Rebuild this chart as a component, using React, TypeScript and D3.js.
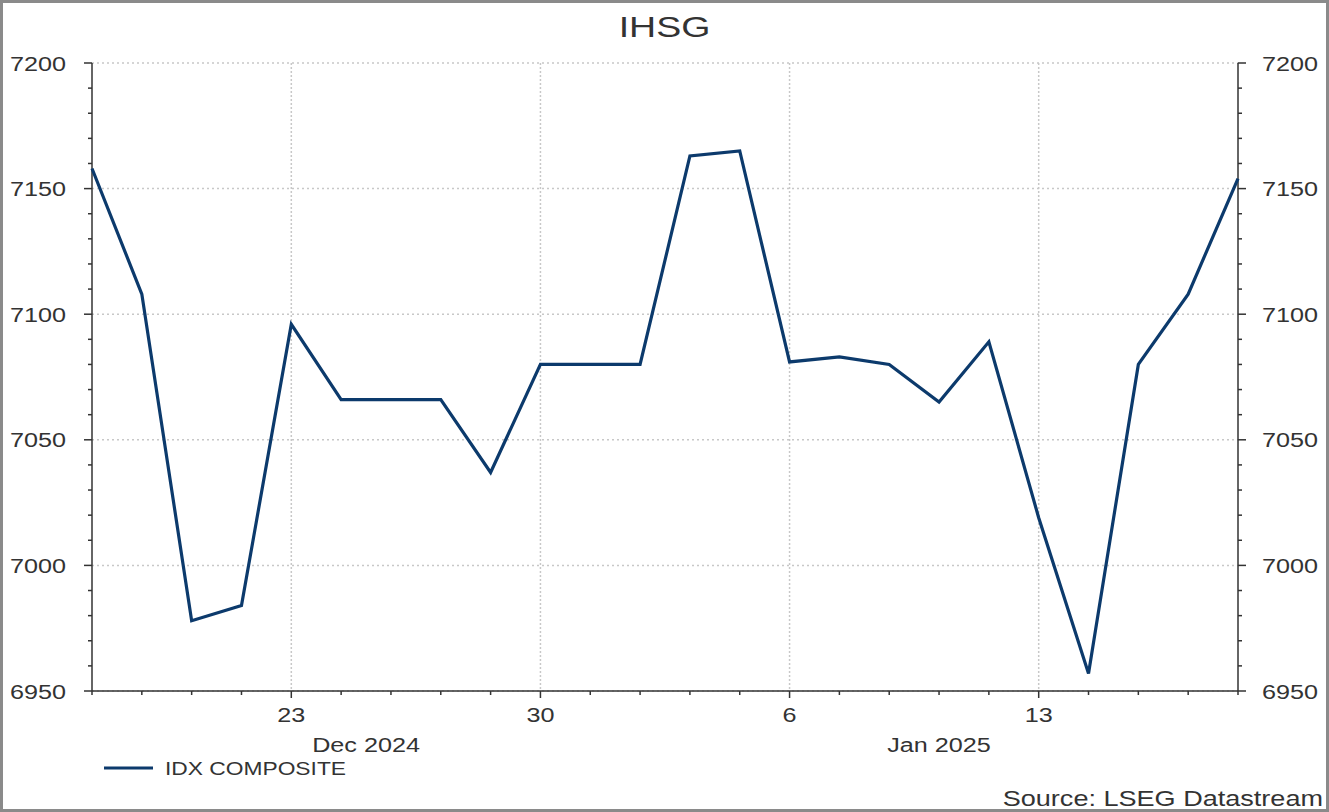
import React from "react"
import * as d3 from "d3"

// IDX Composite closing levels, trading days only
const dates = [
  "2024-12-17", "2024-12-18", "2024-12-19", "2024-12-20",
  "2024-12-23", "2024-12-24", "2024-12-25", "2024-12-26", "2024-12-27",
  "2024-12-30", "2024-12-31", "2025-01-01", "2025-01-02", "2025-01-03",
  "2025-01-06", "2025-01-07", "2025-01-08", "2025-01-09", "2025-01-10",
  "2025-01-13", "2025-01-14", "2025-01-15", "2025-01-16", "2025-01-17",
]
const values = [
  7158, 7108, 6978, 6984,
  7096, 7066, 7066, 7066, 7037,
  7080, 7080, 7080, 7163, 7165,
  7081, 7083, 7080, 7065, 7089,
  7019, 6957, 7080, 7108, 7154,
]
const yTicks = [6950, 7000, 7050, 7100, 7150, 7200]
const monthLabels = ["Dec 2024", "Jan 2025"]
const monthLabelAt = [5.5, 17] // position in trading-day index

const W = 1329
const H = 812
const margin = { top: 63, right: 91, bottom: 121, left: 92 }
const LINE = "#0c3a6c"
const TEXT = "#333"
const GRID = "#c8c8c8"
const SX = 1.2 // source picture is stretched horizontally

const parse = d3.timeParse("%Y-%m-%d")

const T: React.FC<{ x: number; y: number; size: number; anchor?: string; children: React.ReactNode; sx?: number }> = ({ x, y, size, anchor = "start", children, sx = SX }) => (
  <text
    transform={`translate(${x},${y}) scale(${sx},1)`}
    fontSize={size}
    textAnchor={anchor}
    fill={TEXT}
    fontFamily="'Liberation Sans', Arial, sans-serif"
  >
    {children}
  </text>
)

export default function App() {
  const parsed = dates.map(d => parse(d) as Date)
  const x = d3.scaleLinear().domain([0, dates.length - 1]).range([margin.left, W - margin.right])
  const y = d3.scaleLinear().domain([6950, 7200]).range([H - margin.bottom, margin.top])
  const minor = d3.range(6950, 7201, 10)
  const mondays = parsed.map((d, i) => ({ d, i })).filter(o => o.d.getDay() === 1)

  const line = d3.line<number>()
    .x((_v, i) => x(i))
    .y(v => y(v))

  const x0 = x(0)
  const x1 = x(dates.length - 1)
  const yb = y(6950)

  return (
    <div style={{ position: "absolute", left: 0, top: 0 }}>
      <svg width={W} height={H} style={{ display: "block", background: "#fff" }}>
        <rect x={1.5} y={1.5} width={W - 3} height={H - 3} fill="none" stroke="#8a8a8a" strokeWidth={3} />

        {/* grid */}
        {yTicks.map(t => (
          <line key={"gy" + t} x1={x0} x2={x1} y1={y(t)} y2={y(t)} stroke={GRID} strokeWidth={1.5} strokeDasharray="2,3" />
        ))}
        {mondays.map(m => (
          <line key={"gx" + m.i} x1={x(m.i)} x2={x(m.i)} y1={y(7200)} y2={yb} stroke={GRID} strokeWidth={1.5} strokeDasharray="2,2" />
        ))}

        {/* axes */}
        <g stroke="#333" strokeWidth={1.5}>
          <line x1={x0} x2={x0} y1={y(7200)} y2={yb} />
          <line x1={x1} x2={x1} y1={y(7200)} y2={yb} />
          <line x1={x0} x2={x1} y1={yb} y2={yb} />
          {minor.map(t => {
            const major = t % 50 === 0
            const len = major ? 8 : 4
            return (
              <g key={"t" + t}>
                <line x1={x0 - len} x2={x0} y1={y(t)} y2={y(t)} />
                <line x1={x1} x2={x1 + len} y1={y(t)} y2={y(t)} />
              </g>
            )
          })}
          {parsed.map((d, i) => (
            <line key={"xt" + i} x1={x(i)} x2={x(i)} y1={yb} y2={yb + (d.getDay() === 1 ? 7 : 4)} />
          ))}
        </g>

        {/* tick labels */}
        {yTicks.map(t => (
          <g key={"yl" + t}>
            <T x={x0 - 26} y={y(t) + 7.5} size={21} anchor="end">{t}</T>
            <T x={x1 + 24} y={y(t) + 7.5} size={21}>{t}</T>
          </g>
        ))}
        {mondays.map(m => (
          <T key={"xl" + m.i} x={x(m.i)} y={yb + 31} size={21} anchor="middle">{m.d.getDate()}</T>
        ))}
        {monthLabels.map((m, i) => (
          <T key={m} x={x(monthLabelAt[i])} y={yb + 61} size={21} anchor="middle">{m}</T>
        ))}

        {/* series */}
        <path d={line(values) ?? ""} fill="none" stroke={LINE} strokeWidth={3.2} strokeLinejoin="miter" />

        {/* title, legend, source */}
        <T x={W / 2} y={37} size={30} anchor="middle" sx={1.25}>IHSG</T>
        <line x1={104} x2={153} y1={768} y2={768} stroke={LINE} strokeWidth={3.2} />
        <T x={165} y={775} size={19}>IDX COMPOSITE</T>
        <T x={W - 6} y={806} size={22} anchor="end" sx={1.23}>Source: LSEG Datastream</T>
      </svg>
    </div>
  )
}
